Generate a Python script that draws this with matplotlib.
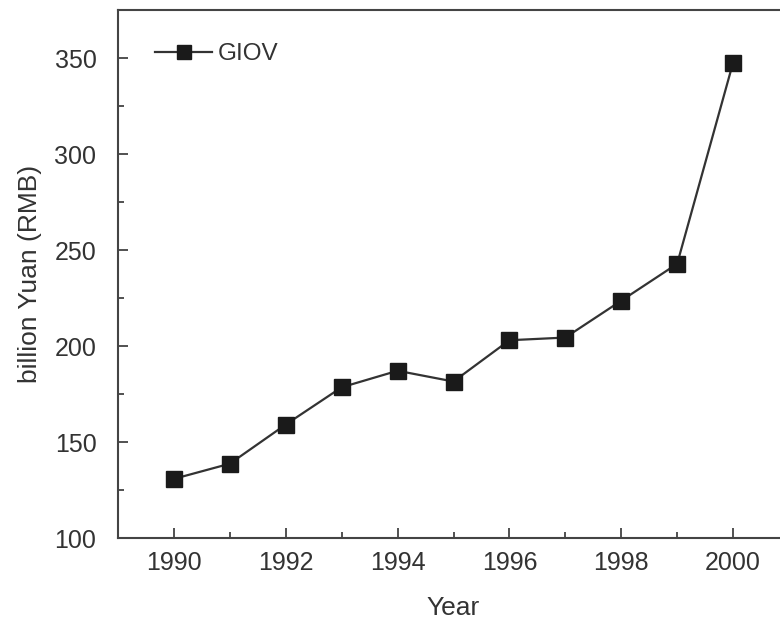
import matplotlib
matplotlib.use("Agg")
import matplotlib.pyplot as plt
from matplotlib.ticker import MultipleLocator

plt.rcParams['font.family'] = ['Liberation Sans', 'DejaVu Sans']

years = [1990, 1991, 1992, 1993, 1994, 1995, 1996, 1997, 1998, 1999, 2000]
giov = [130.8, 138.7, 159.1, 178.5, 187.1, 181.5, 203.0, 204.4, 223.6, 242.8, 347.6]
x_ticks = [1990, 1992, 1994, 1996, 1998, 2000]
y_ticks = [100, 150, 200, 250, 300, 350]

ink = '#333333'
W, H = 780, 626
fig = plt.figure(figsize=(W / 100, H / 100), dpi=100)
left, right_px, bottom_px, top_px = 118, 789, 538, 10
ax = fig.add_axes([left / W, (H - bottom_px) / H,
                   (right_px - left) / W, (bottom_px - top_px) / H])

ax.plot(years, giov, color=ink, lw=1.6, marker='s', markersize=11.5,
        markerfacecolor='#1a1a1a', markeredgecolor='#1a1a1a', label='GIOV')

ax.set_xlim(1989, 2001)
ax.set_ylim(100, 375)
ax.set_xticks(x_ticks)
ax.set_yticks(y_ticks)
ax.xaxis.set_minor_locator(MultipleLocator(1))
ax.yaxis.set_minor_locator(MultipleLocator(25))
ax.tick_params(which='both', direction='in', colors=ink, labelsize=18,
               top=False, right=False)
ax.tick_params(which='major', length=7, width=1.2)
ax.tick_params(which='minor', length=4, width=1.2)
ax.tick_params(axis='x', which='major', pad=9)
ax.tick_params(axis='y', which='major', pad=15.5)
for s in ax.spines.values():
    s.set_color('#444444')
    s.set_linewidth(1.5)

ax.set_xlabel('Year', fontsize=19, color=ink)
ax.set_ylabel('billion Yuan (RMB)', fontsize=19, color=ink)
ax.xaxis.set_label_coords(0.5, (538 - 596) / 528)
ax.yaxis.set_label_coords((42 - 118) / 671, 0.5)

leg = ax.legend(loc='center left', frameon=False, fontsize=17.5,
                handlelength=2.35, handletextpad=0.25, numpoints=1,
                markerscale=0.9, borderpad=0, borderaxespad=0,
                bbox_to_anchor=((155 - 118) / 671, (538 - 54) / 528))
for t in leg.get_texts():
    t.set_color(ink)

fig.savefig('out.png', dpi=100)
